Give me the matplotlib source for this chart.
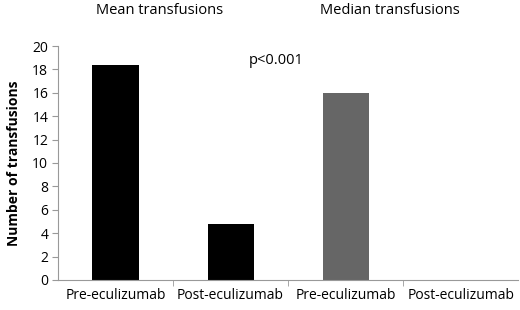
import numpy as np
import matplotlib.pyplot as plt

categories = ['Pre-eculizumab', 'Post-eculizumab', 'Pre-eculizumab', 'Post-eculizumab']
mean_values = [18.4, 4.8]
median_values = [16.0, 0.0]
group_titles = ['Mean transfusions', 'Median transfusions']
y_ticks = list(range(0, 21, 2))

plt.rcParams['font.family'] = ['Open Sans', 'DejaVu Sans']

fig = plt.figure(figsize=(5.2, 3.1), dpi=100)
ax = fig.add_axes([0.1115, 0.0968, 0.885, 0.7548])

x = np.arange(len(categories))
ax.bar(x[:2], mean_values, width=0.4, color='black')
ax.bar(x[2:], median_values, width=0.4, color='#666666')

ax.set_xlim(-0.5, 3.5)
ax.set_ylim(0, 20)
ax.set_yticks(y_ticks)
ax.set_xticks(x)
ax.set_xticklabels(categories, fontsize=10)
ax.tick_params(axis='x', which='major', length=0, pad=6)
ax.set_xticks([0.5, 1.5, 2.5], minor=True)
ax.tick_params(axis='x', which='minor', length=4, color='#999999')
ax.tick_params(axis='y', labelsize=10, length=4, color='#999999', pad=3)

for side in ['top', 'right']:
    ax.spines[side].set_visible(False)
for side in ['left', 'bottom']:
    ax.spines[side].set_color('#999999')

ax.set_ylabel('Number of transfusions', fontsize=10, fontweight='bold', labelpad=8)

# group headers and p-value
fig.text(160 / 520, 1 - 11 / 310, group_titles[0], ha='center', va='center', fontsize=10.5)
fig.text(390 / 520, 1 - 11 / 310, group_titles[1], ha='center', va='center', fontsize=10.5)
fig.text(276 / 520, 1 - 61 / 310, 'p<0.001', ha='center', va='center', fontsize=10.5)

fig.savefig('out.png', dpi=100)
